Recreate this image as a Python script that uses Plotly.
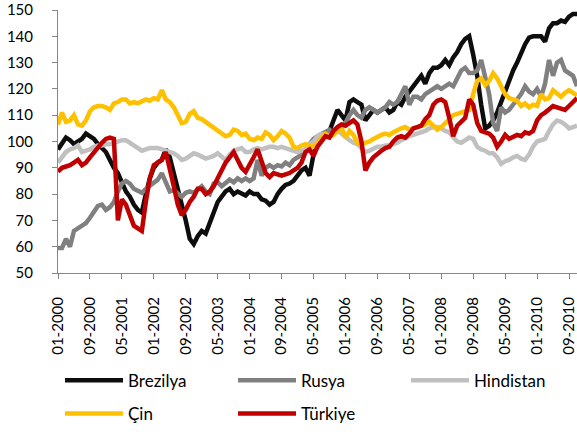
import plotly.graph_objects as go
import pandas as pd

# months 01-2000 .. 11-2010
months = pd.date_range("2000-01-01", periods=131, freq="MS").strftime("%m-%Y").tolist()

brezilya = [97, 99, 101.5, 100.5, 99, 100, 101, 103, 102, 101,
            99, 97.5, 96, 93, 90, 88, 84, 81, 79, 76,
            74, 73, 80, 86, 90, 92, 93, 97, 94, 88,
            83, 76, 70, 63, 61, 64, 66, 65, 69, 72,
            77, 79, 81, 82, 80, 81, 80, 79.5, 81, 80,
            80, 78, 77.5, 76, 77, 80, 82, 83.5, 84, 85,
            87, 89, 90, 87, 95, 100, 101, 102, 104, 108,
            112, 110, 108, 115, 116, 115, 114, 108, 110, 112,
            111, 112, 113, 111, 112, 115, 114, 117, 119, 121,
            123, 125, 122, 126, 128, 128, 129, 131, 129, 132,
            134, 137, 139, 140, 133, 125, 114, 105, 106, 108,
            111, 115, 119, 124, 127, 130, 134, 137, 139.5, 140,
            140, 140, 138, 143, 145, 145, 146, 145.5, 147.5, 148.5,
            148.5]

rusya = [59.5, 59.5, 63, 60, 66, 67, 67.5, 69, 71, 73,
         75.5, 76, 74, 75, 77, 81, 84, 85, 84, 82,
         81, 80.5, 82, 83, 84, 85.5, 88, 84, 81, 81.5,
         80, 79, 80.5, 81, 80.5, 82, 83, 81, 80, 84,
         84.5, 83, 84, 85.5, 84.5, 86, 85, 86, 85, 86,
         93, 87, 90, 91, 90, 91, 90.5, 92, 91, 93,
         94, 95, 97, 99, 101, 102, 103, 104, 104.5, 103,
         105, 106, 107, 110, 112, 110, 109, 112, 113, 112,
         111, 112, 113, 115, 114, 115, 118, 121, 114, 117,
         117, 116, 118, 119, 120, 121, 120, 121, 122, 121,
         124, 127, 128, 126, 126, 127, 131, 124, 118, 107,
         104, 113, 111, 112, 114, 116, 118, 121, 119, 118,
         120, 117, 122, 131, 125, 130, 131, 127, 126, 125,
         121]

hindistan = [92, 94, 96, 97, 97.5, 98.5, 96, 96.5, 97, 98,
             98.5, 98.5, 99, 99, 99.5, 100, 100.5, 100.5, 99.5, 98,
             97, 96.5, 97, 97.5, 97.5, 97.5, 97, 96.5, 96, 95.5,
             94.5, 93, 93.5, 94.5, 95.5, 95, 94, 93.5, 94, 94.5,
             95.5, 94, 93, 95, 96.5, 97, 97.5, 96, 96, 97,
             97.5, 97, 97.5, 98, 98, 97.5, 98, 97.5, 97, 96.5,
             96, 96.5, 97, 99, 100, 102, 103, 102.5, 102, 103.5,
             104.5, 103, 101.5, 100.5, 99.5, 99, 97.5, 96, 96.5, 97.5,
             98, 98, 98.5, 98.5, 99, 99.5, 100.5, 101.5, 102, 102.5,
             103, 103.5, 104, 105, 105.5, 105.5, 105, 104, 103.5, 101.5,
             100, 99.5, 100.5, 101.5, 101, 98, 97, 96.5, 95.5, 95.5,
             94, 91.5, 92.5, 93, 94, 94.5, 93.5, 93, 95, 98,
             100, 100.5, 101, 104, 106.5, 108, 107.5, 106.5, 105, 105.5,
             106]

cin = [106.5, 111, 107.5, 108, 110, 106.5, 106, 108, 111.5, 113,
       113.5, 113.5, 113, 112, 114.5, 115, 116, 116, 114.5, 115,
       114.5, 115.5, 116, 115.5, 116.5, 116, 119.5, 116, 115, 113,
       110, 107, 107.5, 110.5, 111.5, 109, 108.5, 107.5, 106.5, 105.5,
       104.5, 103.5, 102, 102.5, 104.5, 104, 102.5, 103, 101, 100.5,
       101.5, 101, 103.5, 102.5, 100.5, 102, 104, 103, 101.5, 98,
       97.5, 98.5, 99, 98.5, 98, 99.5, 101, 103, 102, 102.5,
       104, 105.5, 101.5, 104, 102.5, 99.5, 99, 99.5, 100, 101,
       102, 102.5, 103, 102.5, 103.5, 104.5, 105, 105.5, 104.5, 105,
       105.5, 106, 106.5, 107.5, 106, 104.5, 105.5, 107, 109, 110,
       110.5, 111, 111.5, 112, 118, 123, 124, 121.5, 123, 126,
       124, 120.5, 118, 116.5, 116, 115.5, 113.5, 114.5, 113, 114,
       113.5, 118, 116, 116.5, 119.5, 118, 117, 118.5, 119.5, 118.5,
       117.5]

turkiye = [88.5, 90, 90.5, 91, 92, 93, 91, 92, 94, 96,
           98, 99.5, 101, 101.5, 101, 70, 78, 76, 72, 68,
           67, 66, 77, 86, 91, 92, 93, 96, 90, 83,
           76, 72, 74, 77, 79, 82, 82, 80, 81, 83,
           86, 89, 92, 94, 96, 93, 90, 88.5, 91, 94,
           97, 93, 88, 86.5, 88, 87.5, 87, 87.5, 88, 89,
           90, 92, 96, 97, 94.5, 98, 100, 102, 101.5, 104,
           105.5, 106.5, 106, 107, 108, 106.5, 100, 89, 92, 94,
           95.5, 96.5, 97.5, 98, 100, 101.5, 102, 101.5, 103, 105,
           105.5, 106, 108.5, 110, 114, 115.5, 116, 115, 109, 102,
           106, 107.5, 109, 116, 114, 107, 104, 103.5, 103, 101.5,
           98, 100, 102.5, 101, 102, 102.5, 102, 103.5, 103, 104,
           108, 110, 111, 112, 113.5, 113, 112.5, 112, 113.5, 115,
           116.5]

names = ["Brezilya", "Rusya", "Hindistan", "Çin", "Türkiye"]
colors = ["#0d0d0d", "#808080", "#c0c0c0", "#ffc000", "#c00000"]
series = [brezilya, rusya, hindistan, cin, turkiye]

fig = go.Figure()
for i, (name, vals) in enumerate(zip(names, series)):
    fig.add_trace(go.Scatter(
        x=months, y=vals, name=name, mode="lines",
        line=dict(color=colors[i], width=4.5),
        legend="legend" if i < 3 else "legend2",
    ))

axis_col = "#868686"
legend_style = dict(
    orientation="h", xanchor="left", yanchor="top",
    xref="container", yref="container",
    entrywidth=100, entrywidthmode="pixels",
    font=dict(family="Lato", size=17, color="#000000"),
    bgcolor="rgba(0,0,0,0)", itemwidth=58,
)

fig.update_layout(
    width=577, height=437,
    margin=dict(l=58, r=0, t=10, b=164, autoexpand=False),
    plot_bgcolor="white", paper_bgcolor="white",
    font=dict(family="Lato", size=15, color="#000000"),
    xaxis=dict(
        type="category", range=[0, 130], automargin=False,
        tickvals=months[::8], ticktext=months[::8],
        tickangle=-90, ticks="outside", ticklen=5, tickcolor=axis_col,
        showline=True, linecolor=axis_col, linewidth=1,
        showgrid=False, zeroline=False, ticklabelstandoff=12,
    ),
    yaxis=dict(
        range=[50, 150], dtick=10, tick0=50, automargin=False,
        ticks="outside", ticklen=5, tickcolor=axis_col,
        showline=True, linecolor=axis_col, linewidth=1,
        showgrid=False, zeroline=False, ticklabelstandoff=16,
    ),
    legend=dict(x=0.104, y=0.17, **legend_style),
    legend2=dict(x=0.104, y=0.094, **legend_style),
    showlegend=True,
)

# page body has a default 8px margin; drop it so the chart sits at 0,0
fig.write_html("out.html", config={"displayModeBar": False},
               post_script="document.body.style.margin='0';")
